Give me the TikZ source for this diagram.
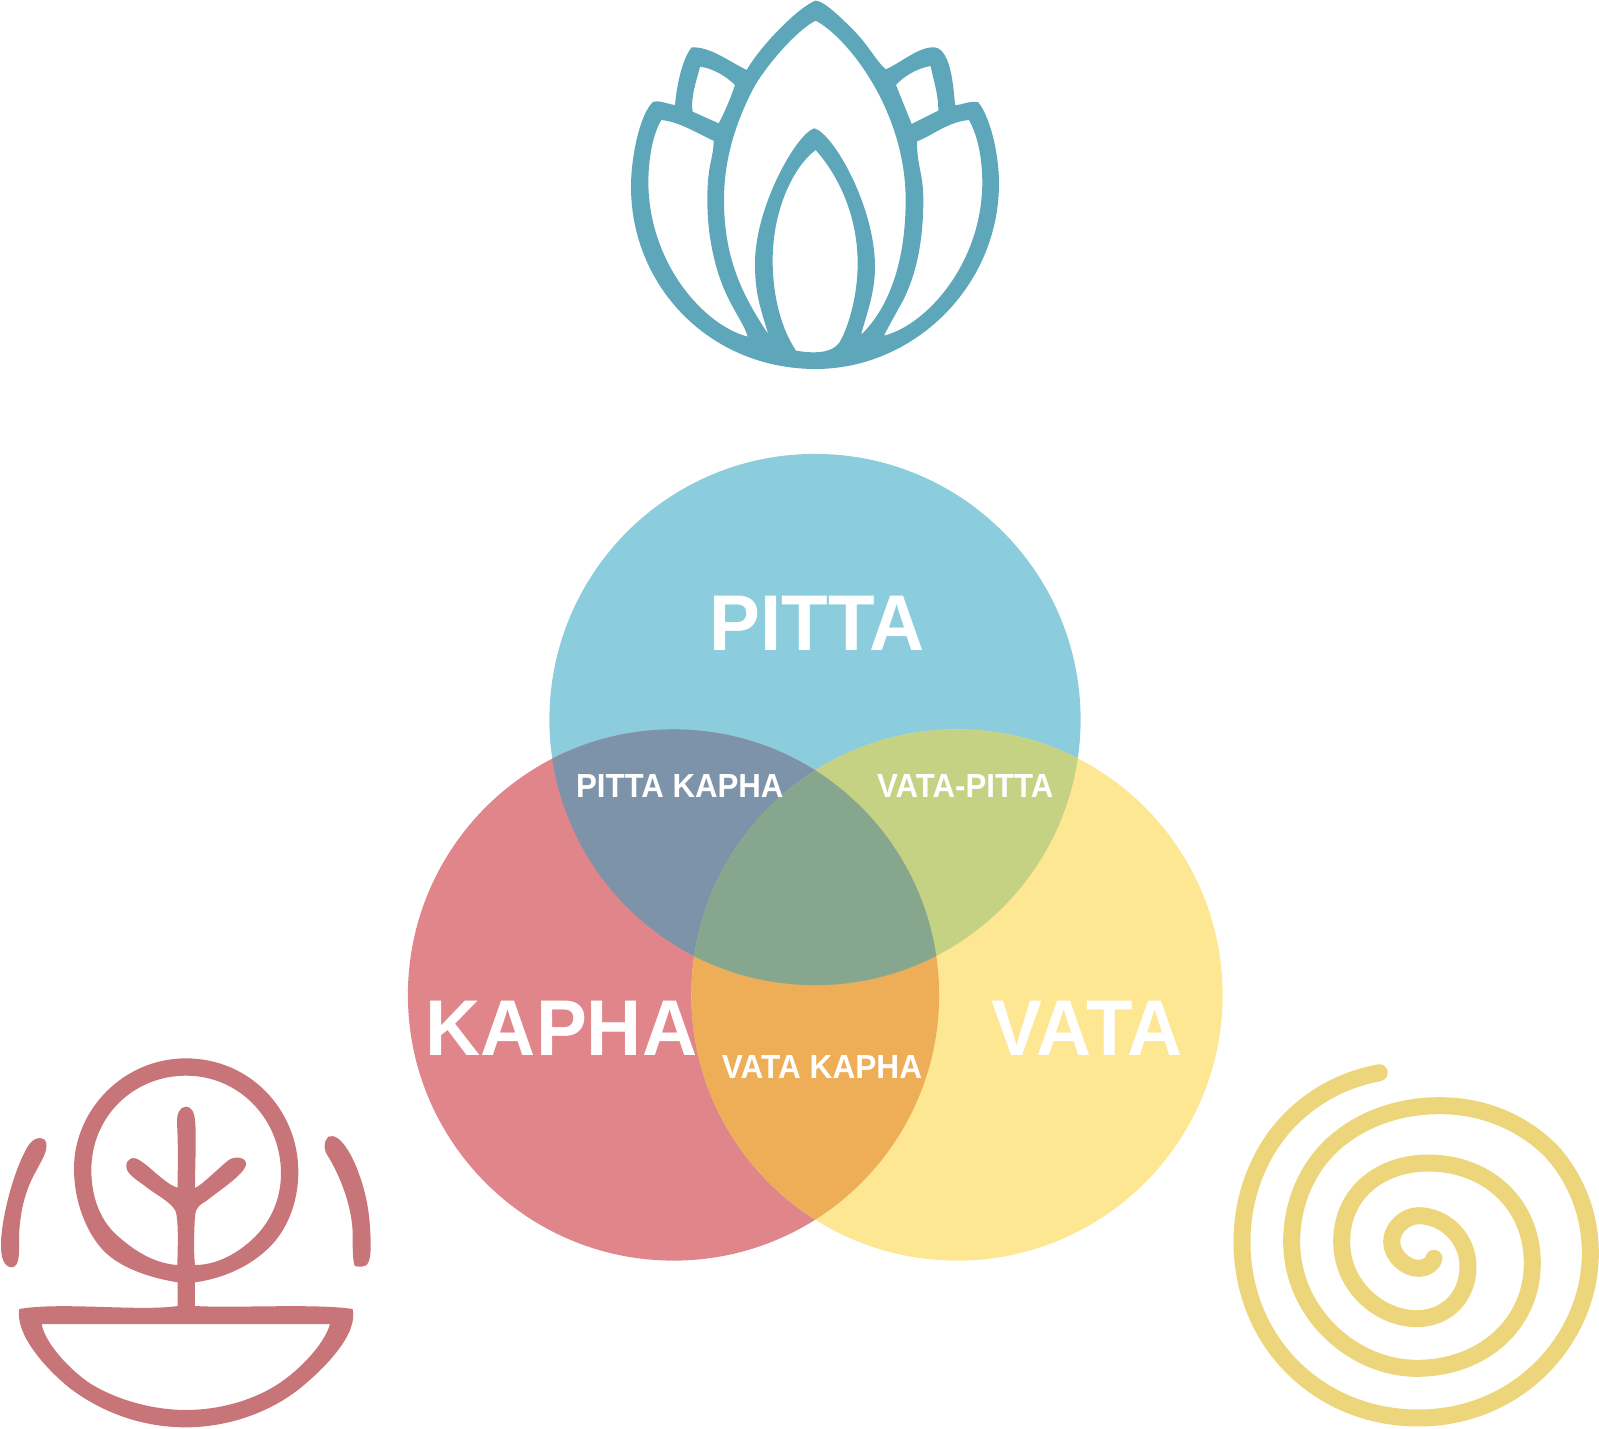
\documentclass[tikz,border=0pt]{standalone}
\usepackage{fontspec}
\setmainfont{Liberation Sans}
\definecolor{pittac}{HTML}{8CCDDD}
\definecolor{kaphac}{HTML}{E0868B}
\definecolor{vatac}{HTML}{FDE793}
\definecolor{pkc}{HTML}{7D93A9}
\definecolor{vpc}{HTML}{C5D183}
\definecolor{vkc}{HTML}{EDAE57}
\definecolor{allc}{HTML}{86A68D}
\definecolor{lotusc}{HTML}{5EA7BB}
\definecolor{treec}{HTML}{C77579}
\definecolor{spiralc}{HTML}{EDD57B}
\tikzset{
  bigname/.style={text=white,anchor=base,inner sep=0pt,xscale=0.965,font=\fontsize{45}{45}\selectfont\bfseries},
  smallname/.style={text=white,anchor=base,inner sep=0pt,xscale=0.935,font=\fontsize{19}{19}\selectfont\bfseries},
  zoomed/.style={x=0.02cm/3,y=-0.02cm/3},
}
\def\rr{265.6}
\begin{document}
\begin{tikzpicture}[x=0.02cm,y=-0.02cm]
\useasboundingbox (0,0) rectangle (1599,1428);
\fill[pittac] (815,719.5) circle [radius=\rr];
\fill[kaphac] (673.5,995) circle [radius=\rr];
\fill[vatac] (957,995) circle [radius=\rr];
\begin{scope}
 \clip (673.5,995) circle [radius=\rr];
 \fill[vkc] (957,995) circle [radius=\rr];
\end{scope}
\begin{scope}
 \clip (815,719.5) circle [radius=\rr];
 \fill[pkc] (673.5,995) circle [radius=\rr];
 \fill[vpc] (957,995) circle [radius=\rr];
 \clip (673.5,995) circle [radius=\rr];
 \fill[allc] (957,995) circle [radius=\rr];
\end{scope}
\node[bigname] (pitta) at (817,650) {PITTA};
\node[bigname] (kapha) at (561.5,1055) {KAPHA};
\node[bigname] (vata) at (1087,1055) {VATA};
\node[smallname] (pk) at (679.8,797) {PITTA KAPHA};
\node[smallname] (vp) at (965.3,797) {VATA-PITTA};
\node[smallname,xscale=1.0128] (vk) at (822,1078) {VATA KAPHA};
% lotus
\begin{scope}[shift={(620,0)},zoomed]
\fill[lotusc,even odd rule]
 (587,2) .. controls (545,15) and (430,125) .. (380,210)
 .. controls (320,180) and (270,140) .. (215,142)
 .. controls (185,180) and (170,260) .. (165,315)
 .. controls (140,312) and (120,300) .. (100,305)
 .. controls (60,340) and (33,470) .. (33,560)
 .. controls (33,860) and (270,1107) .. (587,1107)
 .. controls (880,1107) and (1137,860) .. (1137,550)
 .. controls (1137,460) and (1110,350) .. (1075,307)
 .. controls (1050,300) and (1030,315) .. (1005,315)
 .. controls (1000,250) and (990,135) .. (935,142)
 .. controls (890,145) and (840,190) .. (797,208)
 .. controls (770,185) and (745,135) .. (700,90)
 .. controls (655,45) and (610,2) .. (587,2) -- cycle
 (240,200) .. controls (280,205) and (320,230) .. (345,255)
 .. controls (330,300) and (310,345) .. (296,370) -- (218,335)
 .. controls (210,290) and (235,225) .. (240,200) -- cycle
 (932,198) .. controls (890,205) and (850,230) .. (828,255)
 -- (875,372) -- (955,332)
 .. controls (955,280) and (940,240) .. (932,198) -- cycle
 (124,360) .. controls (180,365) and (240,405) .. (281,422)
 .. controls (280,480) and (262,490) .. (262,600)
 .. controls (262,720) and (290,830) .. (330,905)
 .. controls (350,945) and (375,980) .. (383,1010)
 .. controls (250,975) and (88,790) .. (85,550)
 .. controls (85,470) and (100,400) .. (124,360) -- cycle
 (1047,360) .. controls (985,365) and (940,405) .. (891,424)
 .. controls (891,500) and (910,520) .. (910,600)
 .. controls (910,720) and (890,820) .. (850,900)
 .. controls (825,945) and (800,990) .. (792,1007)
 .. controls (920,975) and (1085,790) .. (1087,550)
 .. controls (1087,480) and (1075,410) .. (1047,360) -- cycle
 (587,62) .. controls (530,90) and (430,205) .. (395,275)
 .. controls (345,375) and (312,480) .. (312,600)
 .. controls (312,780) and (370,890) .. (445,1003)
 .. controls (420,920) and (405,880) .. (405,790)
 .. controls (405,620) and (530,400) .. (583,385)
 .. controls (640,400) and (765,620) .. (765,800)
 .. controls (765,880) and (740,940) .. (723,1005)
 .. controls (810,920) and (857,780) .. (857,600)
 .. controls (857,330) and (680,110) .. (587,62) -- cycle
 (587,450) .. controls (520,500) and (458,630) .. (458,780)
 .. controls (458,880) and (480,980) .. (528,1052)
 .. controls (560,1057) and (632,1068) .. (660,1025)
 .. controls (690,970) and (713,880) .. (713,790)
 .. controls (713,640) and (650,520) .. (587,450) -- cycle;
\end{scope}
% tree in bowl
\begin{scope}[shift={(0,1050)},zoomed]
\fill[treec,even odd rule]
 (533,768) -- (533,697)
 .. controls (430,680) and (345,645) .. (300,590)
 .. controls (262,545) and (222,460) .. (222,355)
 .. controls (222,180) and (370,25) .. (558,25)
 .. controls (750,25) and (895,180) .. (895,365)
 .. controls (895,460) and (860,540) .. (810,590)
 .. controls (750,650) and (670,685) .. (585,697)
 -- (585,768)
 .. controls (700,775) and (950,760) .. (1058,777)
 .. controls (1075,850) and (980,950) .. (900,1015)
 .. controls (800,1095) and (670,1132) .. (558,1132)
 .. controls (430,1132) and (310,1090) .. (210,1015)
 .. controls (130,950) and (45,850) .. (58,777)
 .. controls (180,755) and (420,785) .. (533,768) -- cycle
 (125,822) -- (990,822)
 .. controls (975,880) and (900,960) .. (830,1005)
 .. controls (750,1055) and (650,1080) .. (558,1080)
 .. controls (460,1080) and (350,1050) .. (270,1000)
 .. controls (210,960) and (135,880) .. (125,822) -- cycle
 (532,645) .. controls (460,640) and (400,600) .. (350,555)
 .. controls (300,510) and (274,440) .. (274,360)
 .. controls (274,200) and (400,77) .. (558,77)
 .. controls (720,77) and (843,210) .. (843,370)
 .. controls (843,450) and (810,520) .. (755,570)
 .. controls (700,620) and (640,645) .. (585,645)
 .. controls (580,600) and (583,530) .. (585,500)
 .. controls (587,470) and (600,465) .. (620,452)
 .. controls (660,420) and (730,375) .. (738,345)
 .. controls (742,320) and (700,315) .. (680,335)
 .. controls (650,360) and (600,410) .. (585,413)
 .. controls (585,350) and (590,250) .. (585,210)
 .. controls (582,180) and (570,170) .. (558,170)
 .. controls (540,170) and (530,190) .. (531,220)
 .. controls (535,280) and (533,350) .. (533,413)
 .. controls (500,405) and (450,350) .. (425,335)
 .. controls (400,315) and (378,325) .. (379,350)
 .. controls (380,375) and (420,395) .. (440,412)
 .. controls (470,435) and (510,455) .. (525,480)
 .. controls (537,500) and (533,600) .. (532,645) -- cycle;
\fill[treec] (135,270) .. controls (150,295) and (125,330) .. (110,360)
 .. controls (75,420) and (58,490) .. (57,570)
 .. controls (57,610) and (60,650) .. (35,652)
 .. controls (10,650) and (2,620) .. (3,580)
 .. controls (5,500) and (40,370) .. (75,305)
 .. controls (90,270) and (115,255) .. (135,270) -- cycle;
\fill[treec] (985,260) .. controls (1020,245) and (1060,320) .. (1080,380)
 .. controls (1105,450) and (1112,520) .. (1112,590)
 .. controls (1112,630) and (1105,650) .. (1085,650)
 .. controls (1075,650) and (1065,650) .. (1063,645)
 .. controls (1055,610) and (1060,560) .. (1057,530)
 .. controls (1050,450) and (1015,370) .. (985,320)
 .. controls (970,300) and (970,275) .. (985,260) -- cycle;
\end{scope}
% spiral
\begin{scope}[shift={(1220,1050)},zoomed]
\draw[spiralc,line width=0.34cm,line cap=round,line join=round]
 (478,68) .. controls (430,78) and (330,100) .. (230,190)
 .. controls (130,280) and (66,420) .. (66,575)
 .. controls (66,880) and (300,1104) .. (595,1104)
 .. controls (900,1104) and (1111,860) .. (1111,610)
 .. controls (1111,480) and (1060,380) .. (1000,310)
 .. controls (920,225) and (800,167) .. (660,167)
 .. controls (530,167) and (430,210) .. (360,265)
 .. controls (270,335) and (215,450) .. (215,575)
 .. controls (215,790) and (400,955) .. (590,955)
 .. controls (790,955) and (937,820) .. (937,640)
 .. controls (937,460) and (800,339) .. (625,339)
 .. controls (480,339) and (365,430) .. (365,575)
 .. controls (365,710) and (480,806) .. (590,806)
 .. controls (680,806) and (744,740) .. (744,650)
 .. controls (744,560) and (670,497) .. (595,497)
 .. controls (555,497) and (515,535) .. (515,575)
 .. controls (515,620) and (560,655) .. (595,655)
 .. controls (620,655) and (640,640) .. (642,625);
\end{scope}
\end{tikzpicture}
\end{document}
